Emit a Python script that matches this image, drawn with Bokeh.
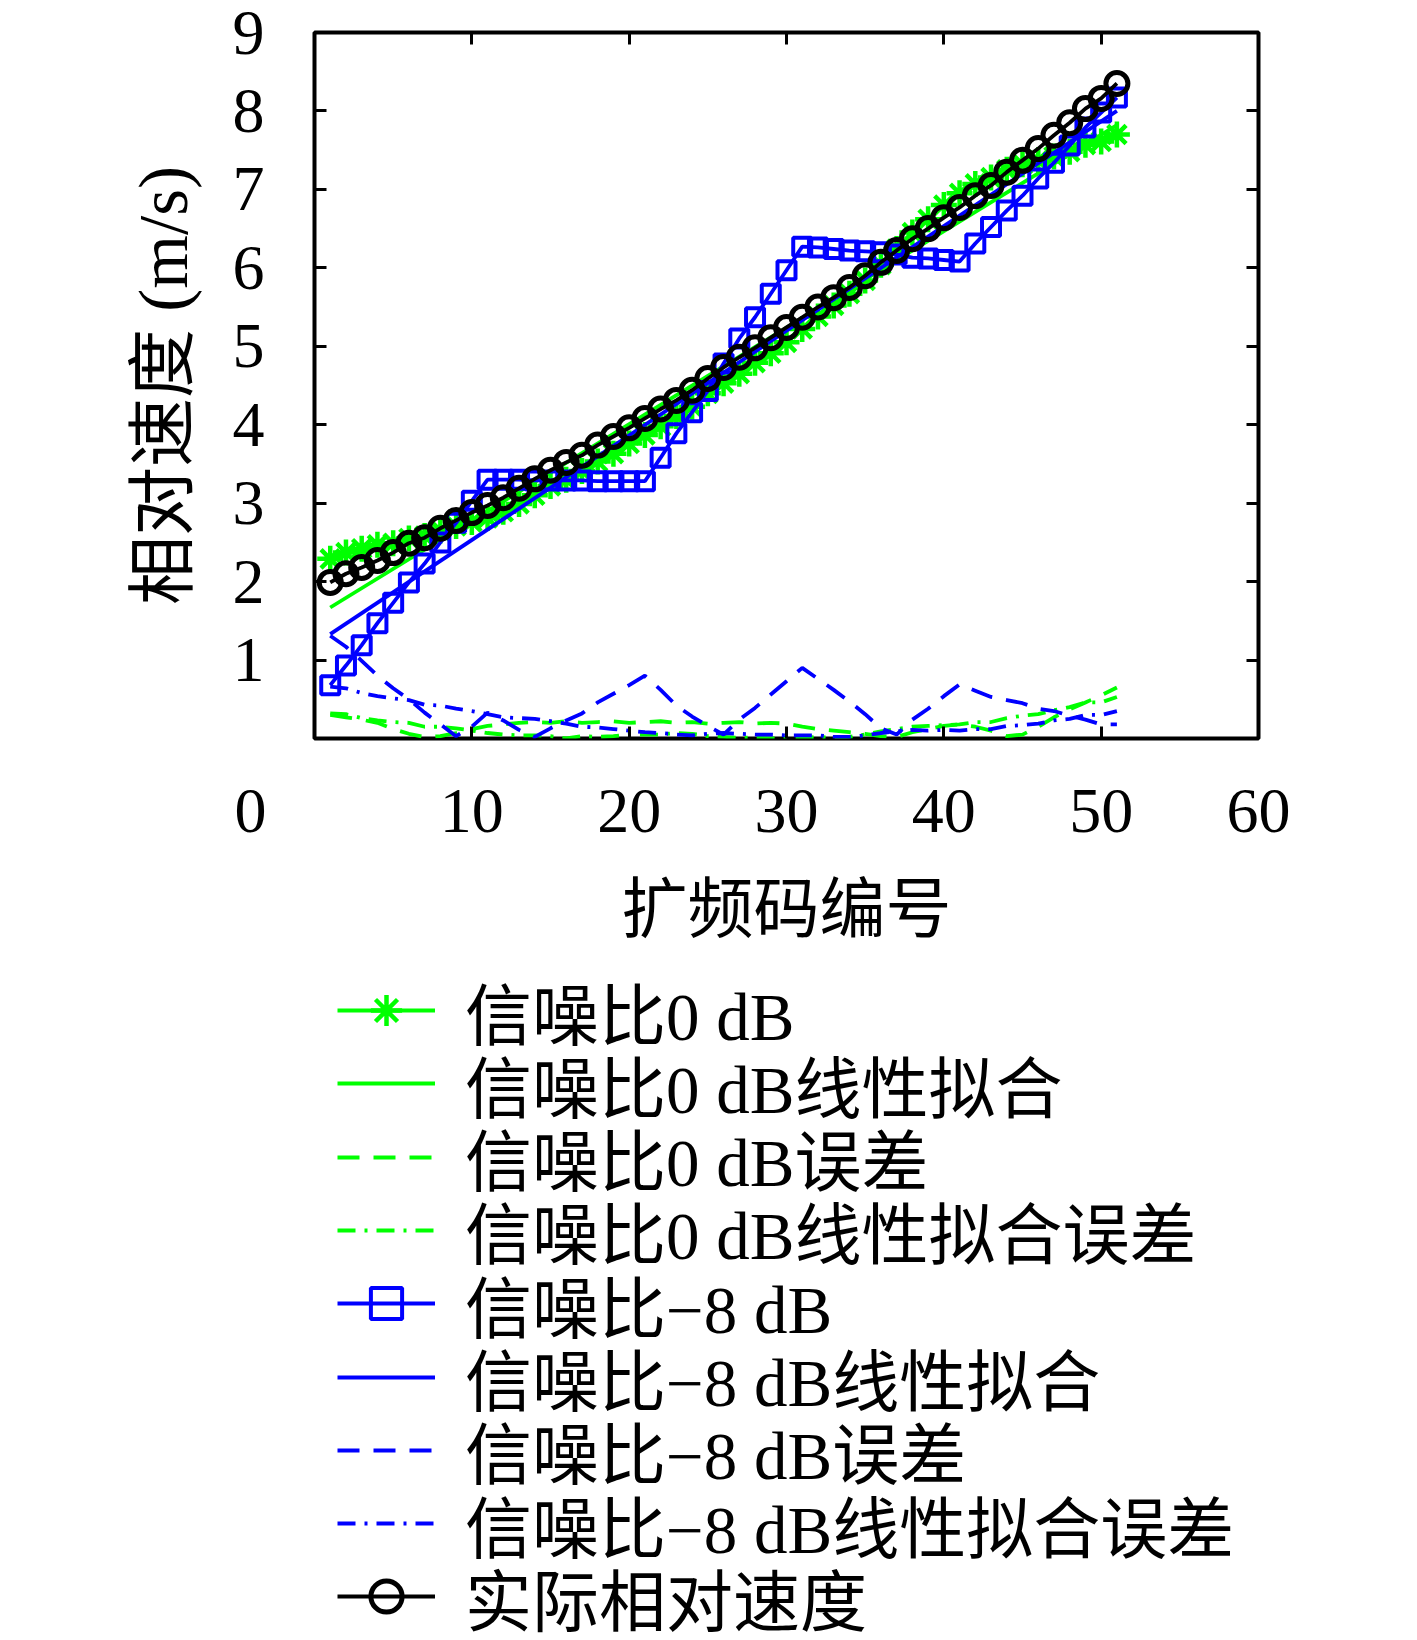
from bokeh.plotting import figure
from bokeh.layouts import column
from bokeh.models import Range1d, FixedTicker, LinearAxis, Legend, LegendItem, Label
from bokeh.embed import file_html
from bokeh.resources import INLINE

# ---------------- data ----------------
code_index = list(range(1, 52))

actual_speed = [1.99, 2.10, 2.18, 2.27, 2.37, 2.49, 2.56, 2.68, 2.78, 2.88,
                2.97, 3.07, 3.19, 3.31, 3.42, 3.52, 3.61, 3.74, 3.85, 3.96,
                4.08, 4.20, 4.31, 4.44, 4.59, 4.73, 4.86, 4.98, 5.11, 5.24,
                5.37, 5.50, 5.62, 5.75, 5.90, 6.07, 6.22, 6.37, 6.50, 6.64,
                6.77, 6.92, 7.05, 7.22, 7.37, 7.52, 7.69, 7.85, 8.03, 8.16,
                8.35]

snr0_speed = [2.29, 2.37, 2.42, 2.47, 2.49, 2.55, 2.58, 2.65, 2.71, 2.76,
              2.81, 2.89, 2.99, 3.10, 3.22, 3.30, 3.41, 3.53, 3.63, 3.76,
              3.87, 3.98, 4.11, 4.23, 4.40, 4.53, 4.65, 4.79, 4.91, 5.05,
              5.22, 5.38, 5.52, 5.67, 5.84, 6.04, 6.24, 6.45, 6.62, 6.80,
              6.95, 7.07, 7.15, 7.25, 7.32, 7.37, 7.42, 7.48, 7.57, 7.61,
              7.70]
snr0_fit_x = [1, 51]
snr0_fit_y = [1.67, 7.82]
snr0_err = [0.30, 0.27, 0.24, 0.20, 0.12, 0.06, 0.02, 0.03, 0.07, 0.12,
            0.16, 0.18, 0.20, 0.21, 0.20, 0.22, 0.20, 0.21, 0.22, 0.20,
            0.21, 0.22, 0.20, 0.21, 0.19, 0.20, 0.21, 0.19, 0.20, 0.19,
            0.15, 0.12, 0.10, 0.08, 0.06, 0.03, 0.02, 0.08, 0.12, 0.16,
            0.18, 0.15, 0.10, 0.03, 0.05, 0.15, 0.27, 0.37, 0.46, 0.55,
            0.65]
snr0_fit_err = [0.32, 0.31, 0.26, 0.23, 0.21, 0.20, 0.15, 0.15, 0.13, 0.10,
                0.07, 0.05, 0.04, 0.04, 0.03, 0.00, 0.03, 0.02, 0.03, 0.05,
                0.05, 0.05, 0.07, 0.06, 0.03, 0.02, 0.01, 0.01, 0.00, 0.00,
                0.01, 0.02, 0.01, 0.02, 0.05, 0.09, 0.12, 0.15, 0.16, 0.17,
                0.18, 0.21, 0.21, 0.26, 0.29, 0.31, 0.36, 0.40, 0.46, 0.46,
                0.53]

snr8_speed = [0.68, 0.93, 1.19, 1.47, 1.73, 1.99, 2.23, 2.50, 2.75, 3.03,
              3.30, 3.30, 3.30, 3.29, 3.29, 3.29, 3.29, 3.28, 3.28, 3.28,
              3.28, 3.58, 3.89, 4.16, 4.43, 4.78, 5.10, 5.37, 5.67, 5.97,
              6.27, 6.26, 6.24, 6.22, 6.21, 6.20, 6.17, 6.13, 6.12, 6.10,
              6.08, 6.31, 6.52, 6.73, 6.92, 7.14, 7.34, 7.56, 7.79, 7.98,
              8.17]
snr8_fit_x = [1, 51]
snr8_fit_y = [1.33, 8.00]
snr8_err = [1.31, 1.17, 0.99, 0.80, 0.64, 0.50, 0.33, 0.18, 0.03, 0.15,
            0.33, 0.23, 0.11, 0.02, 0.13, 0.23, 0.32, 0.46, 0.57, 0.68,
            0.80, 0.62, 0.42, 0.28, 0.16, 0.05, 0.24, 0.39, 0.56, 0.73,
            0.90, 0.76, 0.62, 0.47, 0.31, 0.13, 0.05, 0.24, 0.38, 0.54,
            0.69, 0.61, 0.53, 0.49, 0.45, 0.38, 0.35, 0.29, 0.24, 0.18,
            0.18]
snr8_fit_err = [0.66, 0.64, 0.58, 0.54, 0.51, 0.49, 0.43, 0.42, 0.38, 0.35,
                0.31, 0.27, 0.26, 0.25, 0.22, 0.19, 0.15, 0.14, 0.12, 0.10,
                0.08, 0.07, 0.05, 0.04, 0.06, 0.07, 0.06, 0.05, 0.05, 0.04,
                0.04, 0.04, 0.02, 0.02, 0.04, 0.07, 0.09, 0.11, 0.10, 0.11,
                0.10, 0.12, 0.12, 0.16, 0.17, 0.19, 0.23, 0.25, 0.30, 0.30,
                0.35]

x_ticks = [0, 10, 20, 30, 40, 50, 60]
y_ticks = [0, 1, 2, 3, 4, 5, 6, 7, 8, 9]
y_labelled_ticks = [1, 2, 3, 4, 5, 6, 7, 8, 9]

x_title = "扩频码编号"
y_title = "相对速度 (m/s)"
legend_labels = ["信噪比0 dB", "信噪比0 dB线性拟合", "信噪比0 dB误差", "信噪比0 dB线性拟合误差",
                 "信噪比−8 dB", "信噪比−8 dB线性拟合", "信噪比−8 dB误差", "信噪比−8 dB线性拟合误差",
                 "实际相对速度"]

GREEN = "#00ff00"
BLUE = "#0000ff"
BLACK = "#000000"
NUM_FONT = "Liberation Serif"
MIX_FONT = "Liberation Serif, Noto Sans CJK SC"
DASH = "22 14"
DASHDOT = "18 9 3 9"
LW = 3.8

# page geometry (pixels)
PAGE_W = 1401
FRAME_L, FRAME_R_BORDER, FRAME_T, FRAME_H = 314, 143, 32, 706
TOP_H = 873                  # height of the plot figure
BOTTOM_H = 763               # height of the title + legend figure

# ---------------- main plot ----------------
p = figure(width=PAGE_W, height=TOP_H, x_range=Range1d(0, 60), y_range=Range1d(0, 9),
           output_backend="svg", toolbar_location=None,
           min_border_left=FRAME_L, min_border_right=FRAME_R_BORDER, min_border_top=FRAME_T,
           min_border_bottom=TOP_H - FRAME_T - FRAME_H,
           y_axis_label=y_title)
p.grid.visible = False
p.outline_line_color = BLACK
p.outline_line_width = 4
p.background_fill_color = "white"
p.border_fill_color = "white"

for ax in (p.xaxis[0], p.yaxis[0]):
    ax.axis_line_color = None
    ax.major_tick_in = 12
    ax.major_tick_out = 0
    ax.major_tick_line_width = 3
    ax.minor_tick_line_color = None
    ax.major_label_text_font = NUM_FONT
    ax.major_label_text_font_size = "64px"
    ax.axis_label_text_font = MIX_FONT
    ax.axis_label_text_font_size = "69px"
    ax.axis_label_text_font_style = "normal"
    ax.axis_label_text_color = BLACK
    ax.major_label_text_color = BLACK

# the "0" of the x axis sits under the y tick-label column in the reference
p.xaxis[0].ticker = FixedTicker(ticks=x_ticks)
p.xaxis[0].major_label_overrides = {0: "0" + "\u00a0" * 8}
p.xaxis[0].major_label_standoff = 36
p.yaxis[0].ticker = FixedTicker(ticks=y_labelled_ticks)
p.yaxis[0].major_label_standoff = 50
p.yaxis[0].axis_label_standoff = 28

for loc, ticks in (("right", y_ticks), ("above", x_ticks)):
    ax = LinearAxis(ticker=FixedTicker(ticks=ticks), axis_line_color=None,
                    major_tick_in=12, major_tick_out=0, major_tick_line_width=3,
                    minor_tick_line_color=None, major_label_text_color=None,
                    major_label_standoff=0)
    p.add_layout(ax, loc)


def draw_series(fig):
    g_line = fig.line(code_index, snr0_speed, line_color=GREEN, line_width=LW)
    g_mark = fig.scatter(code_index, snr0_speed, marker="asterisk", size=26,
                         line_color=GREEN, line_width=4.5)
    g_fit = fig.line(snr0_fit_x, snr0_fit_y, line_color=GREEN, line_width=LW)
    g_err = fig.line(code_index, snr0_err, line_color=GREEN, line_width=LW, line_dash=DASH)
    g_fit_err = fig.line(code_index, snr0_fit_err, line_color=GREEN, line_width=LW, line_dash=DASHDOT)
    b_line = fig.line(code_index, snr8_speed, line_color=BLUE, line_width=LW)
    b_mark = fig.scatter(code_index, snr8_speed, marker="square", size=18,
                         line_color=BLUE, line_width=4, fill_color=None)
    b_fit = fig.line(snr8_fit_x, snr8_fit_y, line_color=BLUE, line_width=LW)
    b_err = fig.line(code_index, snr8_err, line_color=BLUE, line_width=LW, line_dash=DASH)
    b_fit_err = fig.line(code_index, snr8_fit_err, line_color=BLUE, line_width=LW, line_dash=DASHDOT)
    k_line = fig.line(code_index, actual_speed, line_color=BLACK, line_width=LW)
    k_mark = fig.scatter(code_index, actual_speed, marker="circle", size=22,
                         line_color=BLACK, line_width=5, fill_color=None)
    return [[g_line, g_mark], [g_fit], [g_err], [g_fit_err],
            [b_line, b_mark], [b_fit], [b_err], [b_fit_err],
            [k_line, k_mark]]


draw_series(p)

# ---------------- x-axis title + legend (figure below the plot) ----------------
# its frame has the same horizontal extent as the plot frame; data units = page pixels
q = figure(width=PAGE_W, height=BOTTOM_H, output_backend="svg", toolbar_location=None,
           x_axis_type=None, y_axis_type=None,
           min_border_left=FRAME_L, min_border_right=FRAME_R_BORDER,
           min_border_top=0, min_border_bottom=0,
           x_range=Range1d(FRAME_L, PAGE_W - FRAME_R_BORDER),
           y_range=Range1d(TOP_H + BOTTOM_H, TOP_H))
q.grid.visible = False
q.outline_line_color = None
q.background_fill_color = "white"
q.border_fill_color = "white"

q.add_layout(Label(x=FRAME_L + 472, y=909, text=x_title, text_font=MIX_FONT,
                   text_font_size="66px", text_align="center", text_baseline="middle",
                   text_color=BLACK))

# same series drawn here only to supply legend samples (they fall outside this frame)
legend_groups = draw_series(q)

ROW0_CENTER = 1010.0
ROW_PITCH = 73.3
ROW_BOX = 97
for k, (lab, grp) in enumerate(zip(legend_labels, legend_groups)):
    center = ROW0_CENTER + ROW_PITCH * k
    vy = (TOP_H + BOTTOM_H) - ROW_BOX - center + ROW_BOX / 2.0
    lg = Legend(items=[LegendItem(label=lab, renderers=grp)], location=(337 - FRAME_L, vy),
                orientation="vertical", label_text_font=MIX_FONT, label_text_font_size="67px",
                label_text_color=BLACK, glyph_width=98, glyph_height=78,
                label_height=ROW_BOX, label_standoff=30, spacing=0,
                padding=0, margin=0, border_line_color=None, background_fill_alpha=0)
    q.add_layout(lg, "center")

page = column(p, q)
open("out.html", "w").write(file_html(page, INLINE))
